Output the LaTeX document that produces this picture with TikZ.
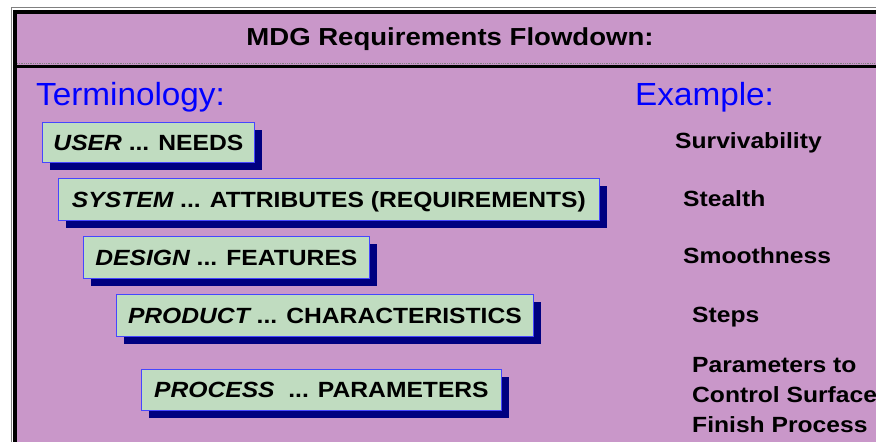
\documentclass[tikz,border=0pt]{standalone}
\usepackage{fontspec}
\setmainfont{Liberation Sans}
\newfontfamily\widefont[FakeStretch=1.12]{Liberation Sans}
\newfontfamily\headfont[FakeStretch=1.04]{Liberation Sans}
\usetikzlibrary{shadows}
\definecolor{slidebg}{RGB}{201,151,201}
\definecolor{boxgreen}{RGB}{192,220,192}
\definecolor{boxedge}{RGB}{70,70,255}
\definecolor{shadownavy}{RGB}{0,0,128}
\definecolor{headblue}{RGB}{0,0,255}
\tikzset{
  termbox/.style={draw=boxedge, line width=0.8pt, fill=boxgreen, anchor=north west,
    inner xsep=0pt, inner ysep=0pt, text height=15.8pt, text depth=0pt,
    font={\widefont\fontsize{22}{26}\selectfont\bfseries},
    general shadow={fill=shadownavy, shadow xshift=8pt, shadow yshift=-8pt}},
  exlabel/.style={anchor=base west, inner sep=0pt,
    font={\widefont\fontsize{22}{30}\selectfont\bfseries}},
  colhead/.style={anchor=base west, inner sep=0pt, text=headblue,
    font={\headfont\fontsize{32}{36}\selectfont}},
}
\begin{document}
\begin{tikzpicture}[x=1pt,y=-1pt]
\useasboundingbox (0,0) rectangle (876,442);
\clip (0,0) rectangle (876,442);
\fill[white] (0,0) rectangle (876,442);
% slide background and frame
\fill[slidebg] (13,10) rectangle (876,442);
\draw[gray, line width=1pt] (11.5,442) -- (11.5,7.5) -- (876,7.5);
\draw[black, line width=4.3pt, line join=miter] (15,442) -- (15,12) -- (876,12);
\draw[gray, line width=0.8pt, densely dotted] (17,63.3) -- (876,63.3);
\draw[black, line width=3pt] (17,66.5) -- (876,66.5);
% title
\node[anchor=base, inner sep=0pt, font={\widefont\fontsize{24.6}{30}\selectfont\bfseries}]
  (title) at (450,45) {MDG Requirements Flowdown:};
% column headings
\node[colhead] (termhead) at (36,105) {Terminology:};
\node[colhead] (exhead) at (635,105) {Example:};
% terminology boxes
\node[termbox, minimum width=212pt, minimum height=40pt] (user) at (42,122)
  {{\itshape USER} ... NEEDS};
\node[termbox, minimum width=541pt, minimum height=42pt] (system) at (58,178)
  {{\itshape SYSTEM} ... ATTRIBUTES (REQUIREMENTS)};
\node[termbox, minimum width=286pt, minimum height=42pt] (design) at (83,236)
  {{\itshape DESIGN} ... FEATURES};
\node[termbox, minimum width=417pt, minimum height=42pt] (product) at (116,294)
  {{\itshape PRODUCT} ... CHARACTERISTICS};
\node[termbox, minimum width=360pt, minimum height=41pt] (process) at (141,369)
  {{\itshape PROCESS}\ \ ... PARAMETERS};
% examples
\node[exlabel] (exuser) at (675,148) {Survivability};
\node[exlabel] (exsystem) at (683,206) {Stealth};
\node[exlabel] (exdesign) at (683,263) {Smoothness};
\node[exlabel] (exproduct) at (692,322) {Steps};
\node[exlabel, align=left, anchor=north west] (exprocess) at (692,357.5)
  {Parameters to\\Control Surface\\Finish Process};
\end{tikzpicture}
\end{document}
